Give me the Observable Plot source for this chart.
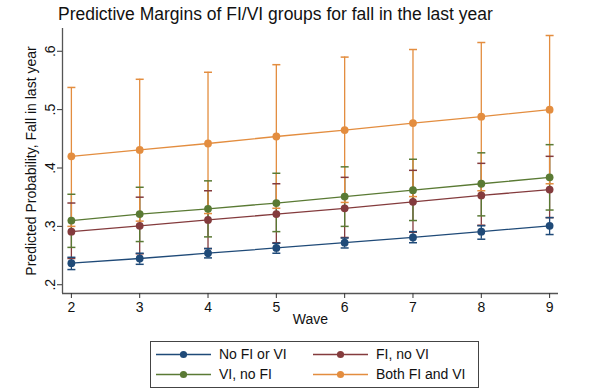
<!DOCTYPE html>
<html>
<head>
<meta charset="utf-8">
<script src="https://cdn.jsdelivr.net/npm/d3@7"></script>
<script src="https://cdn.jsdelivr.net/npm/@observablehq/plot@0.6"></script>
<style>
  html, body { margin: 0; padding: 0; background: #fff; }
  #chart { width: 592px; height: 392px; }
  svg { font-family: Arial, "Liberation Sans", sans-serif; }
</style>
</head>
<body>
<div id="chart"></div>
<script>
const waves = [2, 3, 4, 5, 6, 7, 8, 9];
const groups = ["No FI or VI", "FI, no VI", "VI, no FI", "Both FI and VI"];
const colors = ["#1f4a78", "#843b3d", "#5a7a34", "#e38d3f"];

const noFiVi    = [0.237, 0.245, 0.254, 0.263, 0.272, 0.281, 0.291, 0.301];
const noFiViLo  = [0.226, 0.235, 0.246, 0.254, 0.263, 0.272, 0.278, 0.286];
const noFiViHi  = [0.247, 0.254, 0.262, 0.271, 0.280, 0.291, 0.301, 0.315];

const fiNoVi    = [0.291, 0.301, 0.311, 0.321, 0.331, 0.342, 0.353, 0.363];
const fiNoViLo  = [0.245, 0.253, 0.262, 0.272, 0.281, 0.290, 0.302, 0.315];
const fiNoViHi  = [0.340, 0.350, 0.361, 0.373, 0.384, 0.396, 0.408, 0.420];

const viNoFi    = [0.310, 0.321, 0.330, 0.340, 0.351, 0.362, 0.373, 0.384];
const viNoFiLo  = [0.264, 0.274, 0.282, 0.291, 0.300, 0.310, 0.318, 0.328];
const viNoFiHi  = [0.355, 0.367, 0.378, 0.391, 0.402, 0.415, 0.426, 0.440];

const both      = [0.420, 0.431, 0.442, 0.454, 0.465, 0.477, 0.488, 0.500];
const bothLo    = [0.300, 0.309, 0.322, 0.331, 0.341, 0.351, 0.361, 0.373];
const bothHi    = [0.538, 0.552, 0.564, 0.577, 0.590, 0.603, 0.615, 0.627];

const yTicks = [0.2, 0.3, 0.4, 0.5, 0.6];
const title = "Predictive Margins of FI/VI groups for fall in the last year";
const xLabel = "Wave";
const yLabel = "Predicted Probability, Fall in last year";

const series = [
  [noFiVi, noFiViLo, noFiViHi],
  [fiNoVi, fiNoViLo, fiNoViHi],
  [viNoFi, viNoFiLo, viNoFiHi],
  [both, bothLo, bothHi]
];

const data = [];
series.forEach(([m, lo, hi], gi) => {
  waves.forEach((w, i) => {
    data.push({group: groups[gi], wave: w, y: m[i], lo: lo[i], hi: hi[i]});
  });
});

const capSymbol = {
  draw(context, size) {
    const r = 4;
    context.moveTo(-r, 0);
    context.lineTo(r, 0);
  }
};

const xDomain = [1.87, 9.13];
const yDomain = [0.185, 0.639];

const plot = Plot.plot({
  width: 592,
  height: 392,
  marginLeft: 62,
  marginRight: 34,
  marginTop: 28,
  marginBottom: 99,
  style: {fontFamily: "Arial, 'Liberation Sans', sans-serif", background: "#fff"},
  x: {domain: xDomain, ticks: waves, label: null},
  y: {domain: yDomain, ticks: yTicks, label: null},
  color: {domain: groups, range: colors},
  marks: [
    Plot.ruleX([xDomain[0]], {y1: yDomain[0], y2: yDomain[1], stroke: "#555", strokeWidth: 1.3}),
    Plot.ruleY([yDomain[0]], {x1: xDomain[0], x2: xDomain[1], stroke: "#555", strokeWidth: 1.3}),
    Plot.axisX({ticks: waves, tickSize: 5, tickPadding: 4, fontSize: 14, fill: "#111", stroke: "#333", label: null}),
    Plot.axisY({ticks: yTicks, tickSize: 5, tickPadding: 3, fontSize: 14, fill: "#111", stroke: "#333",
      tickRotate: -90, tickFormat: d => d3.format(".1f")(d).replace(/^0/, ""), label: null}),
    // confidence intervals
    Plot.ruleX(data, {x: "wave", y1: "lo", y2: "hi", stroke: "group", strokeWidth: 1.3}),
    Plot.dot(data, {x: "wave", y: "lo", symbol: capSymbol, stroke: "group", strokeWidth: 1.5, fill: "none"}),
    Plot.dot(data, {x: "wave", y: "hi", symbol: capSymbol, stroke: "group", strokeWidth: 1.5, fill: "none"}),
    // lines and markers
    Plot.line(data, {x: "wave", y: "y", z: "group", stroke: "group", strokeWidth: 1.3}),
    Plot.dot(data, {x: "wave", y: "y", fill: "group", r: 3.9}),
    Plot.text([xLabel], {frameAnchor: "bottom", dy: 30, fontSize: 14, fill: "#111"}),
    Plot.text([yLabel], {frameAnchor: "left", textAnchor: "middle", dx: -31, rotate: -90, fontSize: 14, fill: "#111"})
  ]
});

const svg = d3.select(plot);
svg.append("text")
  .attr("x", 58).attr("y", 20)
  .attr("text-anchor", "start")
  .attr("font-size", 17.5)
  .attr("fill", "#111")
  .text(title);

// legend
const lg = svg.append("g").attr("text-anchor", "start");
lg.append("rect")
  .attr("x", 150.5).attr("y", 341.5).attr("width", 328).attr("height", 46)
  .attr("fill", "#fff").attr("stroke", "#444").attr("stroke-width", 1);
const cols = [156, 313];
const rows = [354.5, 374.5];
groups.forEach((g, i) => {
  const cx = cols[i % 2], cy = rows[Math.floor(i / 2)];
  lg.append("line").attr("x1", cx).attr("x2", cx + 55).attr("y1", cy).attr("y2", cy)
    .attr("stroke", colors[i]).attr("stroke-width", 1.3);
  lg.append("circle").attr("cx", cx + 27.5).attr("cy", cy).attr("r", 3.6).attr("fill", colors[i]);
  lg.append("text").attr("x", cx + 63).attr("y", cy).attr("dy", "0.35em")
    .attr("text-anchor", "start")
    .attr("font-size", 14).attr("fill", "#111").text(g);
});

document.getElementById("chart").appendChild(plot);
</script>
</body>
</html>
